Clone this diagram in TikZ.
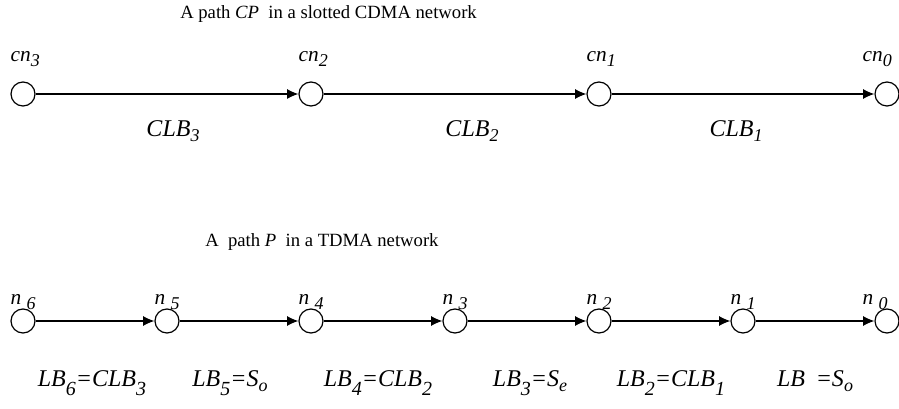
\documentclass[tikz,border=0pt]{standalone}
\usepackage{fontspec}
\setmainfont{Liberation Serif}
\usetikzlibrary{arrows.meta}

% subscripts: small ones for names, lower ones for the link budgets
\newcommand{\sbs}[1]{\raisebox{-0.45ex}{\fontsize{13.5}{13.5}\selectfont #1}}
\newcommand{\sbl}[1]{\raisebox{-0.75ex}{\fontsize{15}{15}\selectfont #1}}

\tikzset{
  hop/.style={circle, draw, line width=0.9pt, minimum size=18pt, inner sep=0pt},
  tag/.style={anchor=base west, inner sep=0pt, font=\fontsize{16}{16}\selectfont\itshape},
  cost/.style={anchor=base, inner sep=0pt, font=\fontsize{18}{18}\selectfont\itshape},
  link/.style={-{Latex[length=8.5pt,width=7.5pt]}, line width=0.9pt},
  title/.style={anchor=base west, inner sep=0pt, font=\fontsize{14}{14}\selectfont},
}

\begin{document}
\begin{tikzpicture}
	\useasboundingbox (0,0) rectangle (674.25pt,-306.75pt);
	% slotted CDMA path
	\node[title] (tcp) at (135pt,-14.25pt) {A path \textit{CP}\ \ in a slotted CDMA network};
	\node[hop] (c3) at (17.25pt,-70.5pt) {};
	\node[hop] (c2) [node distance = 216pt] [right of = c3] {};
	\node[hop] (c1) [node distance = 216pt] [right of = c2] {};
	\node[hop] (c0) [node distance = 216pt] [right of = c1] {};
	\node[tag] (lc3) at ([yshift=24pt]c3.west) {cn\sbs{3}};
	\node[tag] (lc2) at ([yshift=24pt]c2.west) {cn\sbs{2}};
	\node[tag] (lc1) at ([yshift=24pt]c1.west) {cn\sbs{1}};
	\node[tag] (lc0) at ([yshift=24pt,xshift=-9pt]c0.west) {cn\sbs{0}};
	\path[link] (c3) edge node[cost, yshift=-32.25pt, xshift=4.5pt] {CLB\sbs{3}} (c2);
	\path[link] (c2) edge node[cost, yshift=-32.25pt, xshift=12.75pt] {CLB\sbs{2}} (c1);
	\path[link] (c1) edge node[cost, yshift=-32.25pt, xshift=-5.25pt] {CLB\sbs{1}} (c0);
	% TDMA path
	\node[title] (tp) at (153.75pt,-185pt) {A\ \ path \textit{P}\ \ in a TDMA network};
	\node[hop] (n6) at (17.25pt,-240.75pt) {};
	\node[hop] (n5) [node distance = 108pt] [right of = n6] {};
	\node[hop] (n4) [node distance = 108pt] [right of = n5] {};
	\node[hop] (n3) [node distance = 108pt] [right of = n4] {};
	\node[hop] (n2) [node distance = 108pt] [right of = n3] {};
	\node[hop] (n1) [node distance = 108pt] [right of = n2] {};
	\node[hop] (n0) [node distance = 108pt] [right of = n1] {};
	\node[tag] (ln6) at ([yshift=12pt]n6.west) {n \sbs{6}};
	\node[tag] (ln5) at ([yshift=12pt]n5.west) {n \sbs{5}};
	\node[tag] (ln4) at ([yshift=12pt]n4.west) {n \sbs{4}};
	\node[tag] (ln3) at ([yshift=12pt]n3.west) {n \sbs{3}};
	\node[tag] (ln2) at ([yshift=12pt]n2.west) {n \sbs{2}};
	\node[tag] (ln1) at ([yshift=12pt]n1.west) {n \sbs{1}};
	\node[tag] (ln0) at ([yshift=12pt,xshift=-9pt]n0.west) {n \sbs{0}};
	\path[link] (n6) edge node[cost, yshift=-49.5pt, xshift=-2.25pt] {LB\sbl{6}=CLB\sbl{3}} (n5);
	\path[link] (n5) edge node[cost, yshift=-49.5pt, xshift=-6.75pt] {LB\sbl{5}=S\sbs{o}} (n4);
	\path[link] (n4) edge node[cost, yshift=-49.5pt, xshift=-3.75pt] {LB\sbl{4}=CLB\sbl{2}} (n3);
	\path[link] (n3) edge node[cost, yshift=-49.5pt, xshift=2.25pt] {LB\sbl{3}=S\sbs{e}} (n2);
	\path[link] (n2) edge node[cost, yshift=-49.5pt] {LB\sbl{2}=CLB\sbl{1}} (n1);
	\path[link] (n1) edge node[cost, yshift=-49.5pt] {LB\hspace{0.45em}=S\sbs{o}} (n0);
\end{tikzpicture}
\end{document}
